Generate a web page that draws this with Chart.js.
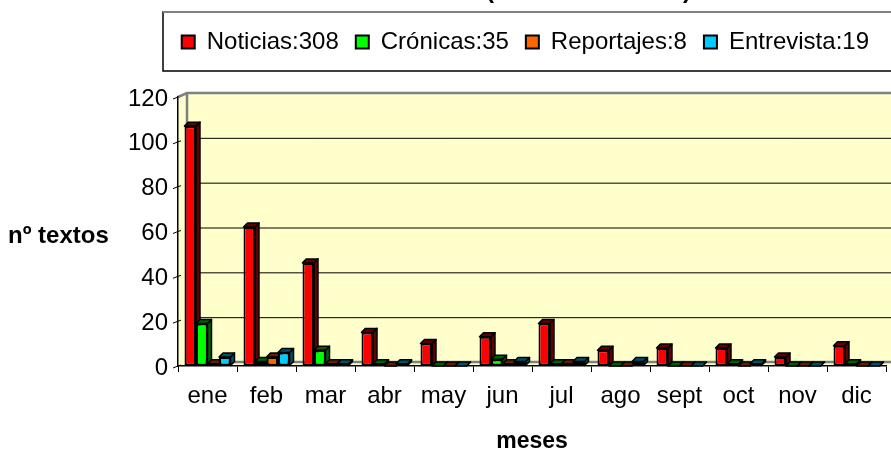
<!DOCTYPE html>
<html>
<head>
<meta charset="utf-8">
<script src="https://cdn.jsdelivr.net/npm/chart.js@4.4.0/dist/chart.umd.min.js"></script>
<style>
  html, body { margin: 0; padding: 0; background: #fff; }
  #wrap { width: 891px; height: 450px; }
</style>
</head>
<body>
<div id="wrap"><canvas id="chart" width="891" height="450"></canvas></div>
<script>
  const months = ["ene", "feb", "mar", "abr", "may", "jun", "jul", "ago", "sept", "oct", "nov", "dic"];
  const seriesNames = ["Noticias:308", "Crónicas:35", "Reportajes:8", "Entrevista:19"];
  const noticias = [107, 62, 46, 15, 10, 13, 19, 7, 8, 8, 4, 9];
  const cronicas = [19, 2, 7, 1, 0, 3, 1, 0, 0, 1, 0, 1];
  const reportajes = [1, 4, 1, 0, 0, 1, 1, 0, 0, 0, 0, 0];
  const entrevistas = [4, 6, 1, 1, 0, 2, 2, 2, 0, 1, 0, 0];
  const yTicks = [0, 20, 40, 60, 80, 100, 120];

  const fillColors = ["#ff0000", "#00ff00", "#ff6600", "#00ccff"];
  const darkColors = ["#600000", "#006000", "#602000", "#005066"];
  const FONT = "'Liberation Sans', Arial, sans-serif";
  const DX = 4, DY = 4;

  // yellow walls, floor, gridlines and legend frame
  const backdrop = {
    id: "backdrop",
    beforeDraw(chart) {
      const ctx = chart.ctx;
      const a = chart.chartArea;
      const y = chart.scales.y;
      const wl = a.left + 9, wt = y.getPixelForValue(120) - 4, wb = y.getPixelForValue(0) - 4;
      ctx.save();
      // title, cut off at the top edge
      ctx.fillStyle = "#000";
      ctx.font = "bold 24px " + FONT;
      ctx.textAlign = "center";
      ctx.textBaseline = "alphabetic";
      ctx.fillText("(", 490, -2);
      ctx.fillText(")", 687, -2);
      // legend frame
      ctx.fillStyle = "#fff";
      ctx.strokeStyle = "#000";
      ctx.lineWidth = 1.5;
      ctx.fillRect(163, 12, 760, 59);
      ctx.strokeRect(163, 12, 760, 59);
      ctx.strokeStyle = "#808080";
      ctx.lineWidth = 2;
      ctx.beginPath();
      ctx.moveTo(163, 12);
      ctx.lineTo(chart.width, 12);
      ctx.stroke();
      // back wall
      ctx.fillStyle = "#ffffcc";
      ctx.fillRect(wl, wt, chart.width - wl + 5, wb - wt);
      // side wall
      ctx.beginPath();
      ctx.moveTo(a.left, a.top);
      ctx.lineTo(wl, wt);
      ctx.lineTo(wl, wb);
      ctx.lineTo(a.left, a.bottom);
      ctx.closePath();
      ctx.fill();
      // floor
      ctx.beginPath();
      ctx.moveTo(a.left, a.bottom);
      ctx.lineTo(wl, wb);
      ctx.lineTo(chart.width + 5, wb);
      ctx.lineTo(a.right, a.bottom);
      ctx.closePath();
      ctx.fill();
      // grid lines on the back wall
      ctx.strokeStyle = "#000";
      ctx.lineWidth = 1;
      yTicks.forEach((v) => {
        const py = y.getPixelForValue(v);
        if (v > 0 && v < 120) {
          ctx.beginPath();
          ctx.moveTo(wl, py - 4 + 0.5);
          ctx.lineTo(chart.width, py - 4 + 0.5);
          ctx.stroke();
        }
        ctx.beginPath();
        ctx.moveTo(a.left - 5, py + 2);
        ctx.lineTo(a.left, py);
        ctx.lineTo(a.left + 3, py - 1);
        ctx.stroke();
      });
      // wall frame
      ctx.strokeStyle = "#808080";
      ctx.lineWidth = 2.5;
      ctx.beginPath();
      ctx.moveTo(a.left, a.top);
      ctx.lineTo(wl, wt);
      ctx.lineTo(chart.width + 2, wt);
      ctx.moveTo(wl, wt);
      ctx.lineTo(wl, wb);
      ctx.lineTo(chart.width + 2, wb);
      ctx.stroke();
      ctx.restore();
    },
    // top and side faces of the columns
    beforeDatasetsDraw(chart) {
      const ctx = chart.ctx;
      ctx.save();
      ctx.strokeStyle = "#000";
      ctx.lineWidth = 1.5;
      ctx.lineJoin = "round";
      chart.data.datasets.forEach((ds, i) => {
        const meta = chart.getDatasetMeta(i);
        meta.data.forEach((bar) => {
          const l = bar.x - bar.width / 2, r = bar.x + bar.width / 2;
          const t = bar.y, b = bar.base;
          ctx.fillStyle = darkColors[i];
          ctx.beginPath();
          ctx.moveTo(r, t);
          ctx.lineTo(r + DX, t - DY);
          ctx.lineTo(r + DX, b - DY);
          ctx.lineTo(r, b);
          ctx.closePath();
          ctx.fill();
          ctx.stroke();
          ctx.beginPath();
          ctx.moveTo(l, t);
          ctx.lineTo(l + DX, t - DY);
          ctx.lineTo(r + DX, t - DY);
          ctx.lineTo(r, t);
          ctx.closePath();
          ctx.fill();
          ctx.stroke();
        });
      });
      ctx.restore();
    },
    afterDraw(chart) {
      const ctx = chart.ctx;
      ctx.save();
      ctx.fillStyle = "#000";
      ctx.font = "bold 24px " + FONT;
      ctx.textBaseline = "middle";
      ctx.textAlign = "left";
      ctx.fillText("nº textos", 8, 236);
      ctx.restore();
    },
  };

  const ctx = document.getElementById("chart").getContext("2d");
  new Chart(ctx, {
    type: "bar",
    data: {
      labels: months,
      datasets: [noticias, cronicas, reportajes, entrevistas].map((d, i) => ({
        label: seriesNames[i],
        data: d,
        backgroundColor: fillColors[i],
        borderColor: "#000",
        borderWidth: 2,
        borderSkipped: false,
        categoryPercentage: 0.78,
        barPercentage: 1.0,
      })),
    },
    options: {
      responsive: false,
      animation: false,
      devicePixelRatio: 1,
      layout: { padding: { top: 13, right: 5, left: 0, bottom: 0 } },
      plugins: {
        legend: {
          position: "top",
          align: "end",
          labels: {
            boxWidth: 13,
            boxHeight: 13,
            padding: 17,
            color: "#000",
            font: { family: FONT, size: 24 },
          },
        },
        // empty spacer between legend and plot
        subtitle: {
          display: true,
          text: " ",
          weight: 500,
          font: { size: 1, lineHeight: 1 },
          padding: { top: 0, bottom: 32 },
        },
        tooltip: { enabled: false },
      },
      scales: {
        x: {
          grid: { drawOnChartArea: false, offset: true, color: "#000", tickLength: 6 },
          border: { color: "#000", width: 1.5 },
          ticks: { color: "#000", padding: 10, font: { family: FONT, size: 24 } },
          title: {
            display: true,
            text: "meses",
            color: "#000",
            font: { family: FONT, size: 23, weight: "bold", lineHeight: "16px" },
            padding: { top: 0, bottom: 0 },
          },
          afterFit(s) {
            s.height = 84;
            s.paddingLeft = 0;
            s.paddingRight = 0;
          },
        },
        y: {
          min: 0,
          max: 120,
          grid: { drawOnChartArea: false, color: "rgba(0,0,0,0)", tickLength: 5 },
          border: { color: "#000", width: 1.5 },
          ticks: {
            stepSize: 20,
            color: "#000",
            padding: 5,
            labelOffset: 2,
            font: { family: FONT, size: 24 },
          },
          afterFit(s) {
            s.width = 178;
            s.paddingTop = 0;
            s.paddingBottom = 0;
          },
        },
      },
    },
    plugins: [backdrop],
  });
</script>
</body>
</html>
